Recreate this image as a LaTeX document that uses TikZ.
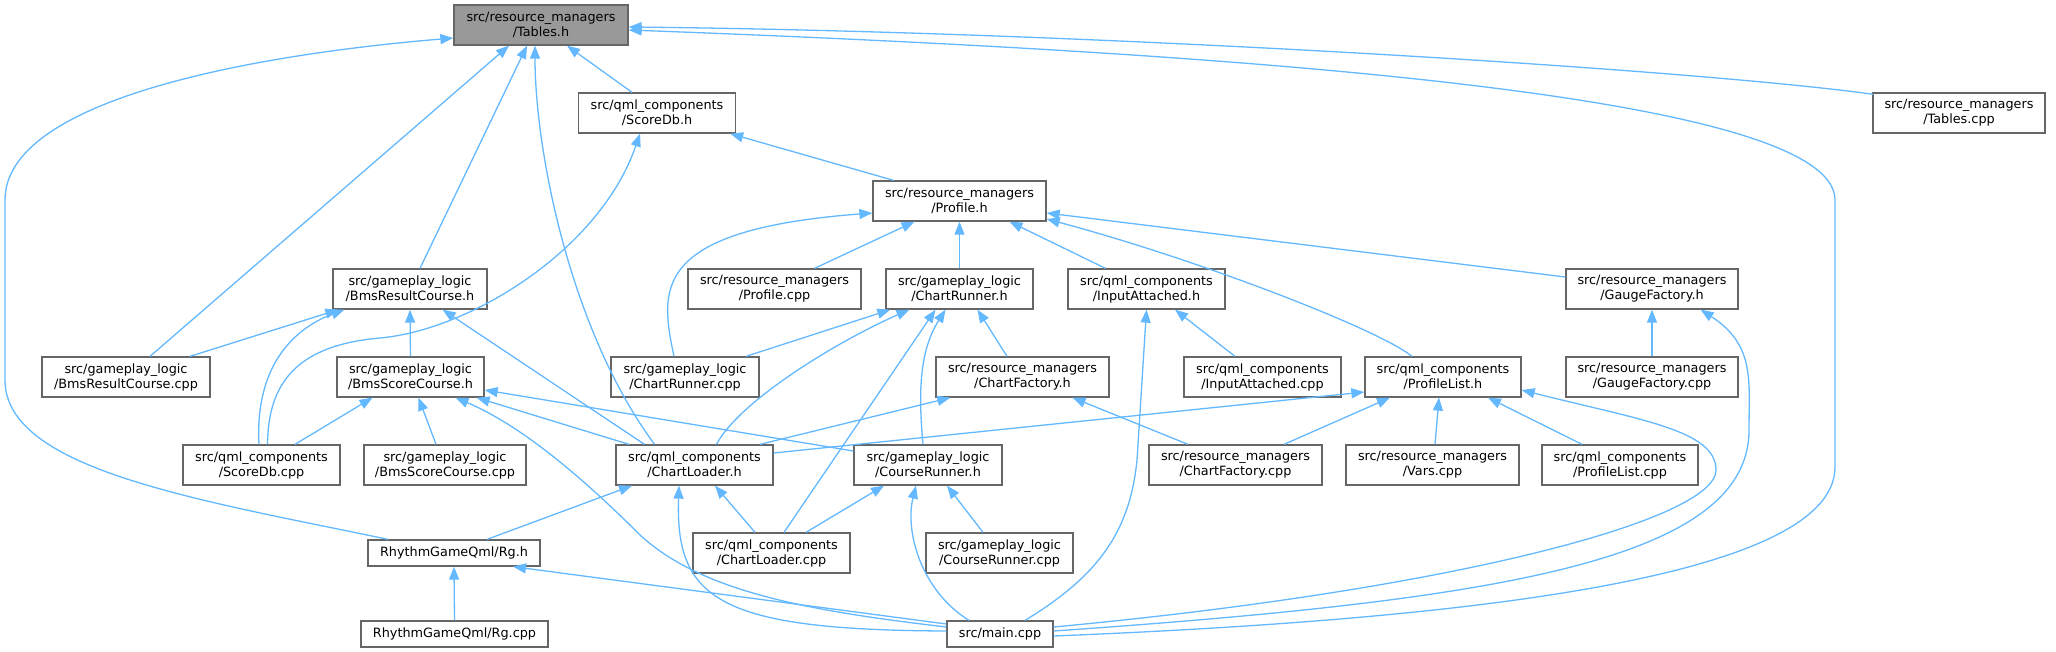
\documentclass[tikz,border=0pt]{standalone}
\usepackage{fontspec}
\setmainfont{DejaVu Sans}
\usetikzlibrary{arrows.meta,calc}
\definecolor{edgeblue}{HTML}{63B8FF}
\definecolor{nodegray}{HTML}{666666}
\definecolor{fillgray}{HTML}{999999}
\tikzset{
  box/.style={draw=nodegray, line width=1.3pt, fill=white, align=center, inner sep=0pt,
    minimum height=40pt, font=\fontsize{12.8}{15}\selectfont, text=black},
  boxone/.style={box, minimum height=26pt},
  dep/.style={draw=edgeblue, line width=1.3pt, -{Triangle[length=13pt,width=10pt]}}
}
\begin{document}
\begin{tikzpicture}[x=1pt,y=-1pt]
\useasboundingbox (0,0) rectangle (2056,652);
% row 0
\node[box, minimum width=174pt, fill=fillgray] (tablesh) at (541,25) {src/resource\_managers\\/Tables.h};
% row 1
\node[box, minimum width=157pt] (scoredbh) at (657,113) {src/qml\_components\\/ScoreDb.h};
\node[box, minimum width=172pt] (tablescpp) at (1959,113) {src/resource\_managers\\/Tables.cpp};
% row 2
\node[box, minimum width=173pt] (profileh) at (959.5,201) {src/resource\_managers\\/Profile.h};
% row 3
\node[box, minimum width=154pt] (bmsresh) at (410,289) {src/gameplay\_logic\\/BmsResultCourse.h};
\node[box, minimum width=173pt] (profilecpp) at (774.5,289) {src/resource\_managers\\/Profile.cpp};
\node[box, minimum width=147pt] (chartrunnerh) at (959.5,289) {src/gameplay\_logic\\/ChartRunner.h};
\node[box, minimum width=157pt] (inputatth) at (1146.5,289) {src/qml\_components\\/InputAttached.h};
\node[box, minimum width=172pt] (gaugeh) at (1652,289) {src/resource\_managers\\/GaugeFactory.h};
% row 4
\node[box, minimum width=168pt] (bmsrescpp) at (126,377) {src/gameplay\_logic\\/BmsResultCourse.cpp};
\node[box, minimum width=147pt] (bmsscoreh) at (410.5,377) {src/gameplay\_logic\\/BmsScoreCourse.h};
\node[box, minimum width=148pt] (chartrunnercpp) at (685,377) {src/gameplay\_logic\\/ChartRunner.cpp};
\node[box, minimum width=173pt] (chartfactoryh) at (1022.5,377) {src/resource\_managers\\/ChartFactory.h};
\node[box, minimum width=157pt] (inputattcpp) at (1262.5,377) {src/qml\_components\\/InputAttached.cpp};
\node[box, minimum width=156pt] (profilelisth) at (1443,377) {src/qml\_components\\/ProfileList.h};
\node[box, minimum width=172pt] (gaugecpp) at (1652,377) {src/resource\_managers\\/GaugeFactory.cpp};
% row 5
\node[box, minimum width=157pt] (scoredbcpp) at (261.5,465) {src/qml\_components\\/ScoreDb.cpp};
\node[box, minimum width=162pt] (bmsscorecpp) at (445,465) {src/gameplay\_logic\\/BmsScoreCourse.cpp};
\node[box, minimum width=157pt] (chartloaderh) at (694.5,465) {src/qml\_components\\/ChartLoader.h};
\node[box, minimum width=148pt] (courserunnerh) at (928,465) {src/gameplay\_logic\\/CourseRunner.h};
\node[box, minimum width=173pt] (chartfactorycpp) at (1235.5,465) {src/resource\_managers\\/ChartFactory.cpp};
\node[box, minimum width=173pt] (varscpp) at (1432.5,465) {src/resource\_managers\\/Vars.cpp};
\node[box, minimum width=156pt] (profilelistcpp) at (1620,465) {src/qml\_components\\/ProfileList.cpp};
% row 6
\node[boxone, minimum width=172pt] (rgh) at (454,553) {RhythmGameQml/Rg.h};
\node[box, minimum width=157pt] (chartloadercpp) at (771.5,553) {src/qml\_components\\/ChartLoader.cpp};
\node[box, minimum width=147pt] (courserunnercpp) at (999.5,553) {src/gameplay\_logic\\/CourseRunner.cpp};
% row 7
\node[boxone, minimum width=187pt] (rgcpp) at (454.5,634) {RhythmGameQml/Rg.cpp};
\node[boxone, minimum width=106pt] (maincpp) at (1000,634) {src/main.cpp};

% --- edges into Tables.h
\draw[dep] ($(scoredbh.north)+(-25,0)$) -- ($(tablesh.south)+(26,0)$);
\draw[dep] ($(tablescpp.north west)+(1,2)$) .. controls (1700,70) and (1100,32) .. ($(tablesh.east)+(0,2)$);
\draw[dep] ($(bmsresh.north)+(10,0)$) -- ($(tablesh.south)+(-14,0)$);
\draw[dep] ($(bmsrescpp.north)+(24,0)$) -- ($(tablesh.south)+(-32,0)$);
\draw[dep] ($(chartloaderh.north)+(-40,0)$) .. controls (570,330) and (535,150) .. ($(tablesh.south)+(-6,0)$);
\draw[dep] ($(rgh.north)+(-66,0)$) .. controls (200,500) and (5,470) .. (5,380) -- (5,200) .. controls (5,100) and (250,55) .. ($(tablesh.west)+(0,13)$);
\draw[dep] ($(maincpp.east)+(0,2)$) .. controls (1450,620) and (1835,580) .. (1835,467) -- (1835,200) .. controls (1835,100) and (1300,55) .. ($(tablesh.east)+(0,5)$);
% --- ScoreDb.h
\draw[dep] ($(profileh.north)+(-66,0)$) -- ($(scoredbh.south east)+(-6,0)$);
\draw[dep] ($(scoredbcpp.north)+(6,0)$) .. controls (268,380) and (300,345) .. (380,338) .. controls (470,330) and (600,250) .. ($(scoredbh.south)+(-17,0)$);
% --- Profile.h
\draw[dep] ($(profilecpp.north)+(40,0)$) -- ($(profileh.south)+(-45,0)$);
\draw[dep] (chartrunnerh.north) -- (profileh.south);
\draw[dep] ($(inputatth.north)+(-41,0)$) -- ($(profileh.south)+(50,0)$);
\draw[dep] ($(gaugeh.west)+(0,-12)$) -- ($(profileh.east)+(0,12)$);
\draw[dep] ($(profilelisth.north)+(-31,0)$) .. controls (1380,330) and (1200,260) .. ($(profileh.east)+(0,18)$);
\draw[dep] ($(chartrunnercpp.north)+(-11,0)$) .. controls (660,290) and (650,230) .. ($(profileh.west)+(0,12)$);
% --- BmsResultCourse.h
\draw[dep] ($(bmsrescpp.north)+(64,0)$) -- ($(bmsresh.south west)+(6,0)$);
\draw[dep] (bmsscoreh.north) -- (bmsresh.south);
\draw[dep] ($(scoredbcpp.north)+(-2.5,0)$) .. controls (255,370) and (290,330) .. ($(bmsresh.south west)+(12,0)$);
\draw[dep] ($(chartloaderh.north)+(-50,0)$) -- ($(bmsresh.south east)+(-45,0)$);
% --- ChartRunner.h
\draw[dep] ($(chartrunnercpp.north)+(61,0)$) -- ($(chartrunnerh.south west)+(5,0)$);
\draw[dep] ($(chartfactoryh.north)+(-15.5,0)$) -- ($(chartrunnerh.south)+(18,0)$);
\draw[dep] ($(chartloaderh.north)+(22,0)$) .. controls (740,400) and (840,340) .. ($(chartrunnerh.south)+(-50,0)$);
\draw[dep] ($(chartloadercpp.north)+(12.5,0)$) -- ($(chartrunnerh.south)+(-24,0)$);
\draw[dep] ($(courserunnerh.north)+(-5,0)$) .. controls (918,390) and (920,350) .. ($(chartrunnerh.south)+(-14,0)$);
% --- InputAttached.h
\draw[dep] ($(inputattcpp.north)+(-27.5,0)$) -- ($(inputatth.south)+(28.5,0)$);
\draw[dep] ($(maincpp.north)+(25,0)$) .. controls (1100,575) and (1130,530) .. (1137,460) -- (inputatth.south);
% --- GaugeFactory.h
\draw[dep] (gaugecpp.north) -- (gaugeh.south);
\draw[dep] ($(maincpp.east)+(0,-3)$) .. controls (1500,600) and (1749,560) .. (1749,430) .. controls (1749,380) and (1755,345) .. ($(gaugeh.south east)+(-38,0)$);
% --- BmsScoreCourse.h
\draw[dep] ($(scoredbcpp.north)+(33.5,0)$) -- ($(bmsscoreh.south)+(-38,0)$);
\draw[dep] ($(bmsscorecpp.north)+(-9,0)$) -- ($(bmsscoreh.south)+(8,0)$);
\draw[dep] ($(chartloaderh.north)+(-65.5,0)$) -- ($(bmsscoreh.south east)+(-8,0)$);
\draw[dep] ($(courserunnerh.west)+(0,-14)$) -- ($(bmsscoreh.east)+(0,13)$);
\draw[dep] ($(maincpp.west)+(0,-7)$) .. controls (800,610) and (700,590) .. (640,535) .. controls (580,475) and (520,425) .. ($(bmsscoreh.south)+(45,0)$);
% --- ChartFactory.h
\draw[dep] ($(chartloaderh.north)+(65.5,0)$) -- ($(chartfactoryh.south west)+(15,0)$);
\draw[dep] ($(chartfactorycpp.north)+(-47.5,0)$) -- ($(chartfactoryh.south)+(50,0)$);
% --- ProfileList.h
\draw[dep] ($(chartloaderh.east)+(0,-12)$) -- ($(profilelisth.west)+(0,15)$);
\draw[dep] ($(chartfactorycpp.north)+(48.5,0)$) -- ($(profilelisth.south)+(-53,0)$);
\draw[dep] ($(varscpp.north)+(2.5,0)$) -- ($(profilelisth.south)+(-4,0)$);
\draw[dep] ($(profilelistcpp.north)+(-38,0)$) -- ($(profilelisth.south)+(45,0)$);
\draw[dep] ($(maincpp.east)+(0,-7)$) .. controls (1450,590) and (1716,520) .. (1716,470) .. controls (1716,430) and (1640,420) .. ($(profilelisth.east)+(0,13)$);
% --- ChartLoader.h
\draw[dep] ($(rgh.north)+(33,0)$) -- ($(chartloaderh.south)+(-62.5,0)$);
\draw[dep] ($(chartloadercpp.north)+(-16.5,0)$) -- ($(chartloaderh.south)+(20.5,0)$);
\draw[dep] ($(maincpp.west)+(0,-3)$) .. controls (720,630) and (675,600) .. ($(chartloaderh.south)+(-15.5,0)$);
% --- CourseRunner.h
\draw[dep] ($(chartloadercpp.north)+(34.5,0)$) -- ($(courserunnerh.south)+(-44,0)$);
\draw[dep] ($(courserunnercpp.north)+(-16.5,0)$) -- ($(courserunnerh.south)+(19,0)$);
\draw[dep] ($(maincpp.north)+(-31,0)$) .. controls (920,590) and (905,530) .. ($(courserunnerh.south)+(-12,0)$);
% --- Rg.h
\draw[dep] (rgcpp.north) -- (rgh.south);
\draw[dep] ($(maincpp.west)+(0,-10)$) -- ($(rgh.south)+(59,0)$);
\end{tikzpicture}
\end{document}
